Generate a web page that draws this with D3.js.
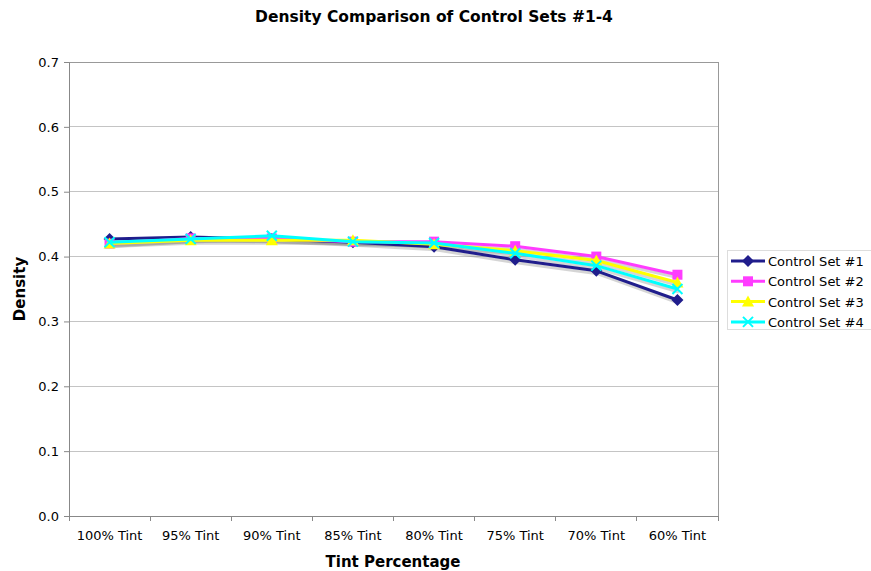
<!DOCTYPE html>
<html><head><meta charset="utf-8">
<script src="https://cdn.jsdelivr.net/npm/d3@7"></script>
<style>body{margin:0;background:#fff}svg{display:block}</style>
</head><body>
<script>
const categories = ["100% Tint","95% Tint","90% Tint","85% Tint","80% Tint","75% Tint","70% Tint","60% Tint"];
const seriesNames = ["Control Set #1","Control Set #2","Control Set #3","Control Set #4"];
const set1 = [0.427,0.430,0.427,0.422,0.415,0.395,0.378,0.333];
const set2 = [0.420,0.428,0.428,0.423,0.423,0.416,0.400,0.372];
const set3 = [0.420,0.425,0.425,0.425,0.419,0.409,0.394,0.360];
const set4 = [0.422,0.427,0.432,0.423,0.421,0.405,0.386,0.350];
const yTicks = [0,0.1,0.2,0.3,0.4,0.5,0.6,0.7];
const colors = ["#201d8c","#ff3cff","#ffff00","#00ffff"];
const markers = ["diamond","square","triangle","x"];
const allSeries = [set1,set2,set3,set4];

const W=871,H=571;
const L=69,R=718,T=62,B=516;
const svg=d3.select("body").append("svg").attr("width",W).attr("height",H)
  .style("font-family","'DejaVu Sans', Verdana, sans-serif");

const x=d3.scaleBand().domain(categories).range([L,R]).padding(0);
const y=d3.scaleLinear().domain([0,0.7]).range([B,T]);

// gridlines
svg.append("g").selectAll("line").data(yTicks.slice(1)).join("line")
  .attr("x1",L).attr("x2",R).attr("y1",d=>y(d)).attr("y2",d=>y(d))
  .attr("stroke","#c4c4c4").attr("stroke-width",1).attr("shape-rendering","crispEdges");

// plot border
svg.append("rect").attr("x",L).attr("y",T).attr("width",R-L).attr("height",B-T)
  .attr("fill","none").attr("stroke","#999").attr("shape-rendering","crispEdges");

// y axis
const ya=svg.append("g").attr("transform",`translate(${L},0)`)
  .call(d3.axisLeft(y).tickValues(yTicks).tickFormat(d3.format(".1f")).tickSize(5).tickPadding(5));
ya.select(".domain").attr("stroke","#888");
ya.selectAll(".tick line").attr("stroke","#888");
ya.selectAll("text").attr("font-size",13).attr("fill","#000").attr("font-family","'DejaVu Sans', Verdana, sans-serif");

// x axis
const xa=svg.append("g").attr("transform",`translate(0,${B})`)
  .call(d3.axisBottom(x).tickSize(0).tickPadding(15));
xa.select(".domain").attr("stroke","#888");
xa.selectAll("text").attr("font-size",13).attr("fill","#000").attr("font-family","'DejaVu Sans', Verdana, sans-serif");
// band boundary ticks
svg.append("g").selectAll("line").data(d3.range(categories.length+1)).join("line")
  .attr("x1",i=>L+i*x.bandwidth()).attr("x2",i=>L+i*x.bandwidth())
  .attr("y1",B).attr("y2",B+5).attr("stroke","#888").attr("shape-rendering","crispEdges");

// lines
const line=d3.line().x((d,i)=>x(categories[i])+x.bandwidth()/2).y(d=>y(d));
// shadows
allSeries.forEach(s=>{
  svg.append("path").datum(s).attr("d",line).attr("fill","none")
    .attr("stroke","#888").attr("stroke-opacity",0.35).attr("stroke-width",3)
    .attr("transform","translate(1.5,3)");
});

function drawMarker(g,type,cx,cy,color){
  if(type==="diamond"){
    g.append("path").attr("d",`M${cx},${cy-6}L${cx+6},${cy}L${cx},${cy+6}L${cx-6},${cy}Z`).attr("fill",color);
  } else if(type==="square"){
    g.append("rect").attr("x",cx-5).attr("y",cy-5).attr("width",10).attr("height",10).attr("fill",color);
  } else if(type==="triangle"){
    g.append("path").attr("d",`M${cx},${cy-6}L${cx+6},${cy+5}L${cx-6},${cy+5}Z`).attr("fill",color);
  } else {
    g.append("path").attr("d",`M${cx-5},${cy-5}L${cx+5},${cy+5}M${cx+5},${cy-5}L${cx-5},${cy+5}`)
      .attr("stroke",color).attr("stroke-width",2).attr("fill","none");
  }
}

allSeries.forEach((s,k)=>{
  svg.append("path").datum(s).attr("d",line).attr("fill","none")
    .attr("stroke",colors[k]).attr("stroke-width",3).attr("stroke-linejoin","round");
  const g=svg.append("g");
  s.forEach((v,i)=>drawMarker(g,markers[k],x(categories[i])+x.bandwidth()/2,y(v),colors[k]));
});

// title
svg.append("text").attr("x",434).attr("y",22).attr("text-anchor","middle")
  .attr("font-size",15.5).attr("font-weight","bold").text("Density Comparison of Control Sets #1-4");
// axis titles
svg.append("text").attr("x",393).attr("y",567).attr("text-anchor","middle")
  .attr("font-size",15).attr("font-weight","bold").text("Tint Percentage");
svg.append("text").attr("transform","translate(25,289) rotate(-90)").attr("text-anchor","middle")
  .attr("font-size",15).attr("font-weight","bold").text("Density");

// legend
const lg=svg.append("g");
lg.append("rect").attr("x",727.5).attr("y",250.5).attr("width",150).attr("height",79)
  .attr("fill","#fff").attr("stroke","#ddd");
seriesNames.forEach((n,k)=>{
  const cy=261+k*20.3;
  lg.append("line").attr("x1",731).attr("x2",765).attr("y1",cy).attr("y2",cy)
    .attr("stroke",colors[k]).attr("stroke-width",3);
  drawMarker(lg,markers[k],748,cy,colors[k]);
  lg.append("text").attr("x",768).attr("y",cy+5).attr("font-size",13).text(n);
});
</script>
</body></html>
